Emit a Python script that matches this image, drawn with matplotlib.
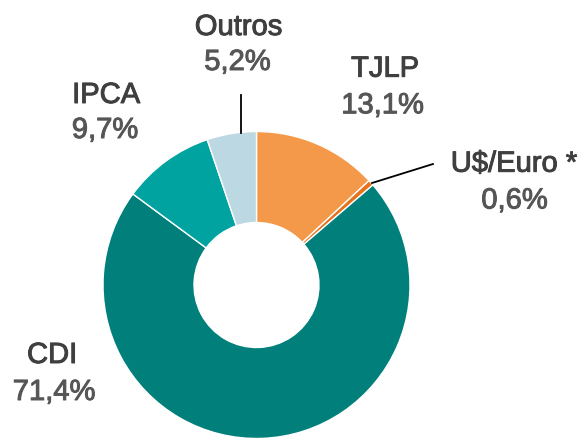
import matplotlib
matplotlib.use("Agg")
import matplotlib.pyplot as plt
import matplotlib.patheffects as pe

categories = ["TJLP", "U$/Euro *", "CDI", "IPCA", "Outros"]
values = [13.1, 0.6, 71.4, 9.7, 5.2]
value_labels = ["13,1%", "0,6%", "71,4%", "9,7%", "5,2%"]
colors = ["#F4994A", "#E8721C", "#007F7B", "#00A3A0", "#BCD8E3"]

W, H = 583, 438
fig = plt.figure(figsize=(W / 100, H / 100), dpi=100)
ax = fig.add_axes([0, 0, 1, 1])

cx, cy = 256.5, H - 285
R = 153.5
r_in = 62.5
ax.pie(values, colors=colors, startangle=90, counterclock=False,
       center=(cx, cy), radius=R, frame=True,
       wedgeprops=dict(width=R - r_in, edgecolor="white", linewidth=1.0))
ax.set_xlim(0, W)
ax.set_ylim(0, H)
ax.set_aspect("equal")
ax.axis("off")

font = "Liberation Sans"
tc = "#3F3F3F"
pc = "#565656"
fs = 21
# label layout: (name_x, name_baseline, pct_x, pct_baseline) in pixel coords from top
layout = {
    "TJLP": (385, 76.7, 382.5, 113.3),
    "U$/Euro *": (514, 171.7, 514.5, 208.5),
    "CDI": (52, 363, 54, 400),
    "IPCA": (106, 103, 105, 138),
    "Outros": (238.5, 35, 237.5, 70),
}
for cat, lab in zip(categories, value_labels):
    nx, ny, px, py = layout[cat]
    ax.text(nx, H - ny, cat, ha="center", va="baseline", fontsize=fs,
            family=font, color=tc,
            path_effects=[pe.withStroke(linewidth=0.7, foreground=tc)])
    ax.text(px, H - py, lab, ha="center", va="baseline", fontsize=fs,
            family=font, color=pc,
            path_effects=[pe.withStroke(linewidth=0.7, foreground=pc)])

# leader lines
ax.plot([241, 241], [H - 95, H - 133], color="black", lw=1.3)
ax.plot([372, 433], [H - 183, H - 164], color="black", lw=1.3)

fig.savefig("out.png", dpi=100)
